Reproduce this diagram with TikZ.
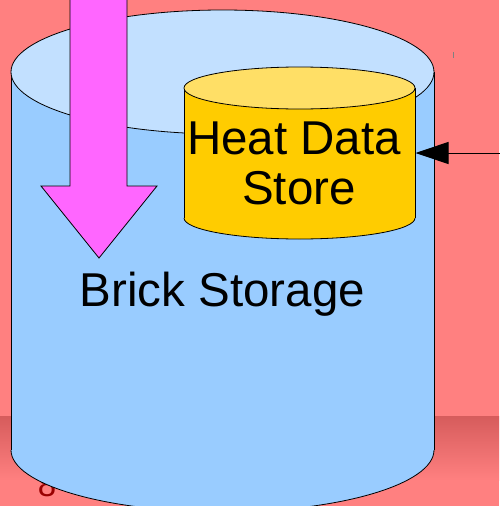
\documentclass[tikz,border=0pt]{standalone}
\usepackage{fontspec}
\setmainfont{Liberation Sans}
\usetikzlibrary{arrows.meta}
\definecolor{slidebg}{HTML}{FF8080}
\definecolor{slideband}{HTML}{D65C5C}
\definecolor{brickbody}{HTML}{99CCFF}
\definecolor{bricktop}{HTML}{C2E0FF}
\definecolor{storebody}{HTML}{FFCC00}
\definecolor{storetop}{HTML}{FFDF66}
\definecolor{flow}{HTML}{FF66FF}
\definecolor{pagenum}{HTML}{990000}
\tikzset{
  outline/.style={draw=black, line width=0.8pt},
  bigtext/.style={font=\fontsize{47.5}{52}\selectfont, anchor=base, inner sep=0pt},
  storetext/.style={font=\fontsize{47.5}{52}\selectfont, anchor=base, inner sep=0pt},
}
\begin{document}
\begin{tikzpicture}[x=1pt, y=-1pt]
  \useasboundingbox (0,0) rectangle (499,506);
  % slide background and footer band
  \fill[slidebg] (0,0) rectangle (499,506);
  \shade[top color=slideband, bottom color=slidebg] (0,416) rectangle (499,480);
  \node[font=\fontsize{33}{36}\selectfont, text=pagenum, anchor=base, inner sep=0pt] (num) at (47,496) {8};
  \draw[gray, line width=1pt] (453,52) -- (453,58);

  % brick storage cylinder
  \fill[brickbody] (11,72) rectangle (434,450);
  \fill[brickbody] (222.5,450) ellipse [x radius=211.5, y radius=62];
  \begin{scope}
    \clip (0,450) rectangle (499,530);
    \draw[outline] (222.5,450) ellipse [x radius=211.5, y radius=62];
  \end{scope}
  \draw[outline] (11,72) -- (11,450);
  \draw[outline] (434,72) -- (434,450);
  \filldraw[fill=bricktop, outline] (222.5,72) ellipse [x radius=211.5, y radius=62];

  % downward flow arrow
  \filldraw[fill=flow, outline] (70,-5) -- (70,186) -- (41,186) -- (99,258)
    -- (157,186) -- (127,186) -- (127,-5) -- cycle;

  % heat data store cylinder
  \fill[storebody] (184,88) rectangle (415,218);
  \fill[storebody] (299.5,218) ellipse [x radius=115.5, y radius=21];
  \begin{scope}
    \clip (150,218) rectangle (450,260);
    \draw[outline] (299.5,218) ellipse [x radius=115.5, y radius=21];
  \end{scope}
  \draw[outline] (184,88) -- (184,218);
  \draw[outline] (415,88) -- (415,218);
  \filldraw[fill=storetop, outline] (299.5,88) ellipse [x radius=115.5, y radius=21];

  \node[storetext] (heat) at (294,154) {Heat Data};
  \node[storetext] (store) at (299,204) {Store};
  \node[bigtext] (brick) at (222.5,306) {Brick Storage};

  % incoming data connector
  \coordinate (storeE) at (415.5,153);
  \coordinate (src) at (505,153);
  \draw[line width=1pt, -{Triangle[length=33pt, width=22pt]}] (src) -- (storeE);
\end{tikzpicture}
\end{document}
